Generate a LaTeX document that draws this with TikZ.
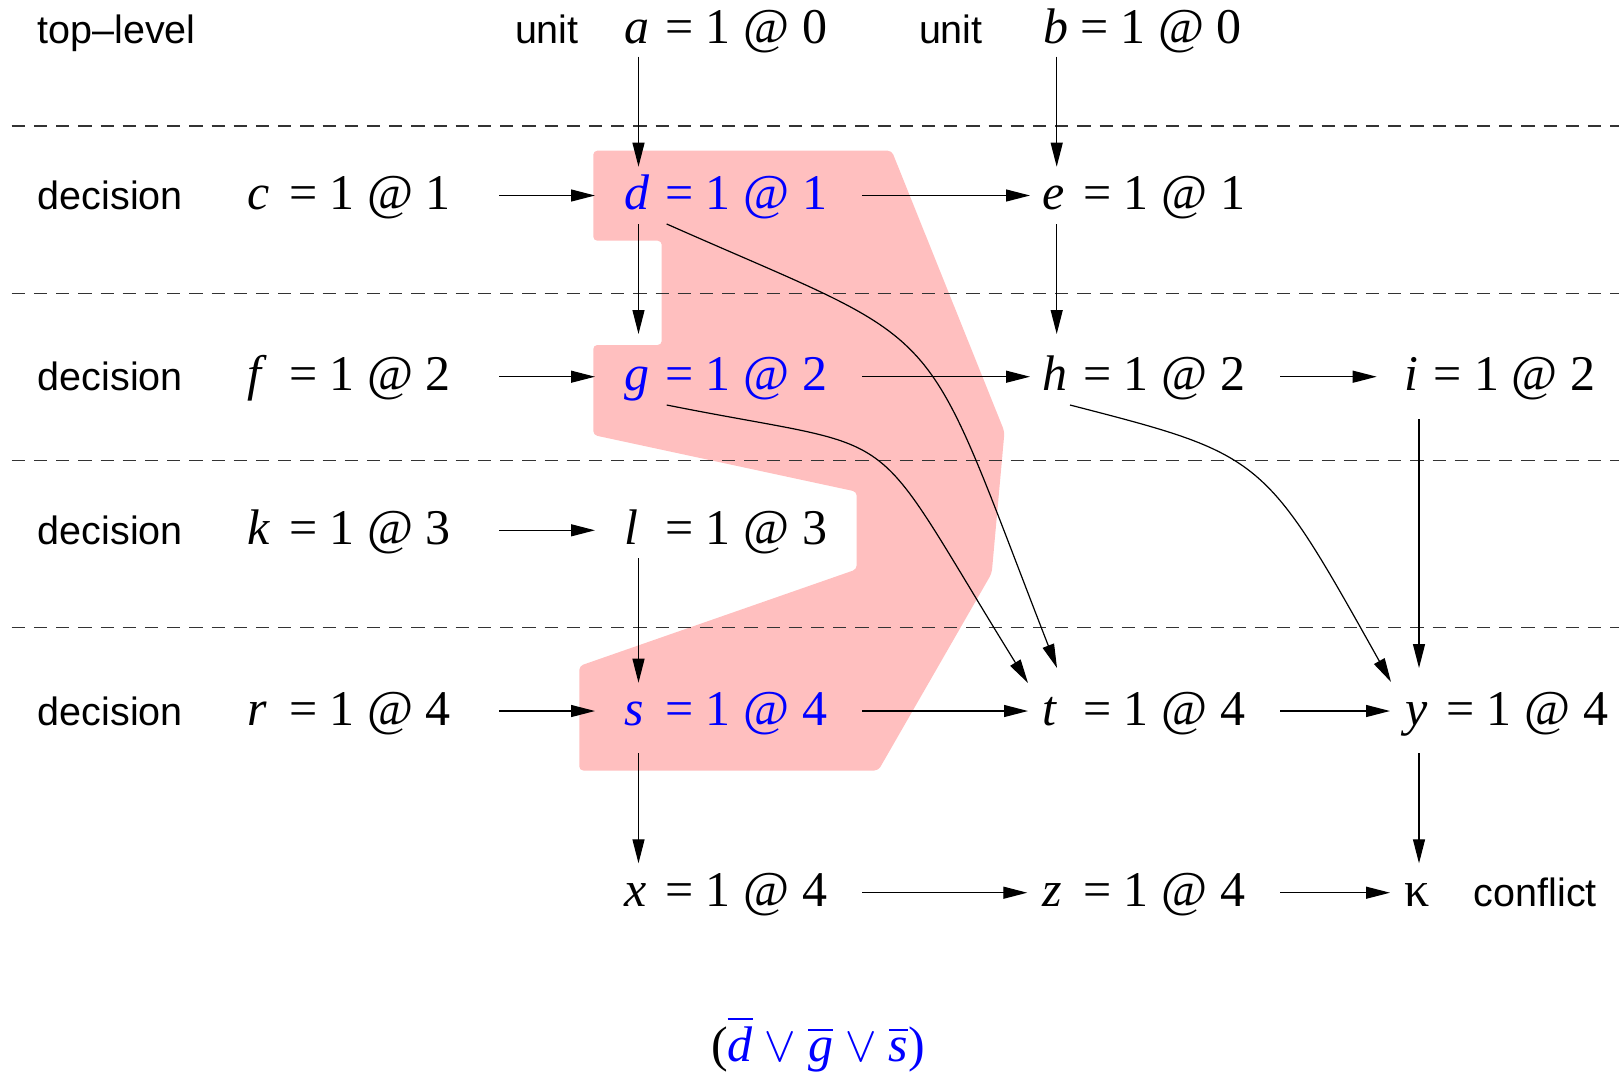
\documentclass[tikz,border=0pt]{standalone}
\usepackage{fontspec}
\usepackage{unicode-math}
\setmainfont{Liberation Serif}
\newfontfamily\hv{Liberation Sans}
\usetikzlibrary{arrows.meta,calc}
\definecolor{pinkfill}{RGB}{255,191,191}
\newcommand{\vareq}[3]{\makebox[#1pt][l]{\itshape #2}= 1 @ #3}
\tikzset{
  lbl/.style={inner sep=0pt, outer sep=0pt, anchor=base west, font=\hv\fontsize{39.5}{45}\selectfont},
  ent/.style={inner sep=0pt, outer sep=0pt, anchor=base west, font=\fontsize{50}{58}\selectfont},
  arr/.style={line width=1.2pt, -{Triangle[length=24pt,width=12pt]}},
  sep/.style={line width=1.2pt, black!80, dash pattern=on 13.3pt off 8.9pt},
}
\begin{document}
\begin{tikzpicture}[x=1pt,y=-1pt]
\useasboundingbox (0,0) rectangle (1619,1072);
% highlighted region
\fill[pinkfill, rounded corners=4pt] (593.3,150.7) -- (891.7,150.7) -- (1004.5,431.7) -- (991.7,573.3) -- (878.3,770.5) -- (579.3,770.5) -- (579.3,666) -- (856.7,569.3) -- (856.7,491.7) -- (593.3,435) -- (593.3,345) -- (661.7,345) -- (661.7,240.7) -- (593.3,240.7) -- cycle;
% level separators
\foreach \yy in {126,293.3,460.7,627.7} \draw[sep] (11.7,\yy) -- (1619,\yy);
% labels
\node[lbl] (toplevel) at (37.5,43) {top–level};
\node[lbl] (unit1) at (515,43) {unit};
\node[lbl] (unit2) at (919,43) {unit};
\node[lbl] (dec1) at (37.9,209.5) {decision};
\node[lbl] (dec2) at (37.9,390.7) {decision};
\node[lbl] (dec3) at (37.9,544.3) {decision};
\node[lbl] (dec4) at (37.9,725) {decision};
\node[lbl] (confl) at (1473.8,906.7) {conflict};
% assignments
\node[ent] (a) at (624,43) {\vareq{41.3}{a}{0}};
\node[ent] (b) at (1043,43) {\vareq{37}{b}{0}};
\node[ent] (c) at (247.5,209.5) {\vareq{41.5}{c}{1}};
\node[ent,text=blue] (d) at (624,209.5) {\vareq{41.3}{d}{1}};
\node[ent] (e) at (1042,209.5) {\vareq{41.3}{e}{1}};
\node[ent] (f) at (247.5,390.7) {\vareq{41.5}{f}{2}};
\node[ent,text=blue] (g) at (624,390.7) {\vareq{41.3}{g}{2}};
\node[ent] (h) at (1042,390.7) {\vareq{41.3}{h}{2}};
\node[ent] (i) at (1404.7,390.7) {\vareq{28.6}{i}{2}};
\node[ent] (k) at (247.5,544.3) {\vareq{41.5}{k}{3}};
\node[ent] (l) at (624,544.3) {\vareq{41.3}{l}{3}};
\node[ent] (r) at (247.5,725) {\vareq{41.5}{r}{4}};
\node[ent,text=blue] (s) at (624,725) {\vareq{41.3}{s}{4}};
\node[ent] (t) at (1042,725) {\vareq{41.3}{t}{4}};
\node[ent] (y) at (1405,725) {\vareq{41.3}{y}{4}};
\node[ent] (x) at (624,906.7) {\vareq{41.3}{x}{4}};
\node[ent] (z) at (1042,906.7) {\vareq{41.3}{z}{4}};
\node[ent] (kap) at (1404.7,906.7) {κ};
% learned clause
\node[ent, anchor=base] (clause) at (818,1061) {(\textcolor{blue}{$\overline{\mbox{\itshape d}}\vee\overline{\mbox{\itshape g}}\vee\overline{\mbox{\itshape s}}$)}};
% vertical arrows
\draw[arr] ($(a.base west)+(14.5,13.7)$) -- ($(d.base west)+(14.5,-42.8)$);
\draw[arr] ($(d.base west)+(14.5,14.8)$) -- ($(g.base west)+(14.5,-56.7)$);
\draw[arr] ($(l.base west)+(14.5,14)$) -- ($(s.base west)+(14.5,-42.3)$);
\draw[arr] ($(s.base west)+(14.5,28.3)$) -- ($(x.base west)+(14.5,-43.4)$);
\draw[arr] ($(b.base west)+(13.7,13.7)$) -- ($(e.base west)+(14.7,-42.8)$);
\draw[arr] ($(e.base west)+(14.7,14.5)$) -- ($(h.base west)+(14.7,-56.7)$);
\draw[arr] ($(i.base west)+(14.3,28.6)$) -- ($(y.base west)+(14,-57)$);
\draw[arr] ($(y.base west)+(14,28)$) -- ($(kap.base west)+(14.3,-43.4)$);
% horizontal arrows
\draw[arr] ($(c.base west)+(251.5,-14)$) -- ($(d.base west)+(-29,-14)$);
\draw[arr] ($(d.base west)+(238,-14)$) -- ($(e.base west)+(-12,-14)$);
\draw[arr] ($(f.base west)+(251.5,-14)$) -- ($(g.base west)+(-29,-14)$);
\draw[arr] ($(g.base west)+(238,-14)$) -- ($(h.base west)+(-12,-14)$);
\draw[arr] ($(h.base west)+(238,-14)$) -- ($(i.base west)+(-28,-14)$);
\draw[arr] ($(k.base west)+(251.5,-14)$) -- ($(l.base west)+(-29,-14)$);
\draw[arr] ($(r.base west)+(251.5,-14)$) -- ($(s.base west)+(-29,-14)$);
\draw[arr] ($(s.base west)+(238,-14)$) -- ($(t.base west)+(-14,-14)$);
\draw[arr] ($(t.base west)+(238,-14)$) -- ($(y.base west)+(-15,-14)$);
\draw[arr] ($(x.base west)+(238,-14)$) -- ($(z.base west)+(-14.7,-14)$);
\draw[arr] ($(z.base west)+(238,-14)$) -- ($(kap.base west)+(-14.7,-14)$);
% curved arrows
\draw[arr] ($(d.base west)+(42.7,14.5)$) .. controls (955.8,352) and (916.7,307.6) .. ($(t.base west)+(15,-57)$);
\draw[arr] ($(g.base west)+(42.7,14.3)$) .. controls (914.8,454.5) and (860.6,412.7) .. ($(t.base west)+(-14,-42)$);
\draw[arr] ($(h.base west)+(28,14.3)$) .. controls (1264,455) and (1264,455) .. ($(y.base west)+(-14,-43)$);
\end{tikzpicture}
\end{document}
